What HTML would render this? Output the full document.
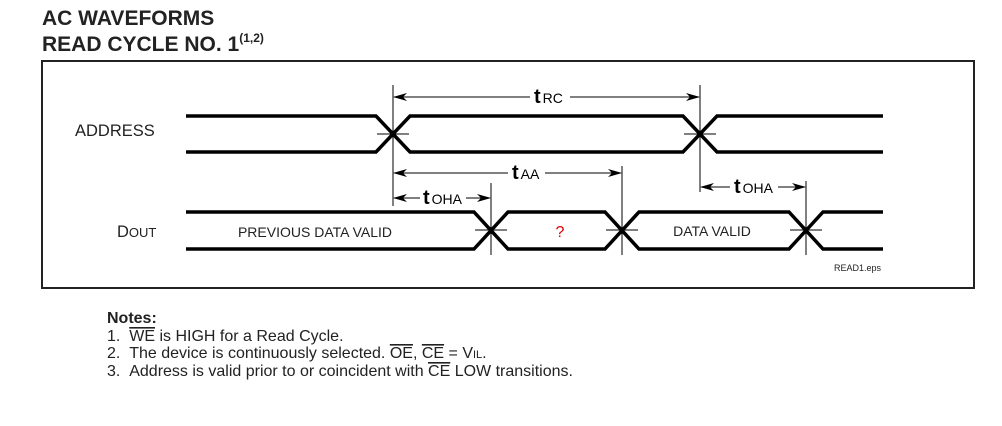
<!DOCTYPE html>
<html><head><meta charset="utf-8"><style>
html,body{margin:0;padding:0;background:#fff;}
body{width:1002px;height:421px;overflow:hidden;}
svg text{font-family:"Liberation Sans",Arial,sans-serif;}
</style></head><body>
<svg width="1002" height="421" viewBox="0 0 1002 421" xmlns="http://www.w3.org/2000/svg">
<defs>
<marker id="a" markerWidth="14" markerHeight="8" refX="13" refY="4" orient="auto" markerUnits="userSpaceOnUse">
<path d="M0,0 L14,4 L0,8 L4,4 Z" fill="#000"/></marker>
<marker id="b" markerWidth="14" markerHeight="8" refX="1" refY="4" orient="auto" markerUnits="userSpaceOnUse">
<path d="M14,0 L0,4 L14,8 L10,4 Z" fill="#000"/></marker>
</defs>
<text x="42" y="25" font-size="21" font-weight="bold" fill="#222">AC WAVEFORMS</text>
<text x="42" y="51" font-size="21" font-weight="bold" fill="#222">READ CYCLE NO. 1<tspan font-size="12" dy="-9">(1,2)</tspan></text>
<rect x="42" y="61" width="932" height="227" fill="none" stroke="#222" stroke-width="2"/>
<text x="75" y="136" font-size="16.5" fill="#222">ADDRESS</text>
<text x="117" y="237" font-size="16.5" fill="#222">D<tspan font-size="13">OUT</tspan></text>
<g fill="none" stroke="#000" stroke-width="3.5">
<polyline points="186,116 376,116 410,152 683,152 717,116 883,116"/>
<polyline points="186,152 376,152 410,116 683,116 717,152 883,152"/>
<polyline points="186,212 474,212 508,249 605,249 639,212 789,212 823,249 883,249"/>
<polyline points="186,249 474,249 508,212 605,212 639,249 789,249 823,212 883,212"/>
</g>
<g stroke="#000" stroke-width="1">
<line x1="393" y1="85" x2="393" y2="206"/>
<line x1="700" y1="85" x2="700" y2="192"/>
<line x1="491" y1="183" x2="491" y2="255"/>
<line x1="622" y1="166" x2="622" y2="255"/>
<line x1="806" y1="181" x2="806" y2="255"/>
<line x1="377" y1="134" x2="409" y2="134"/>
<line x1="684" y1="134" x2="716" y2="134"/>
<line x1="475" y1="230" x2="507" y2="230"/>
<line x1="606" y1="230" x2="638" y2="230"/>
<line x1="790" y1="230" x2="822" y2="230"/>
<line x1="394" y1="97" x2="530" y2="97" marker-start="url(#b)"/>
<line x1="570" y1="97" x2="699" y2="97" marker-end="url(#a)"/>
<line x1="394" y1="173" x2="508" y2="173" marker-start="url(#b)"/>
<line x1="545" y1="173" x2="621" y2="173" marker-end="url(#a)"/>
<line x1="394" y1="198" x2="420" y2="198" marker-start="url(#b)"/>
<line x1="466" y1="198" x2="490" y2="198" marker-end="url(#a)"/>
<line x1="701" y1="187" x2="730" y2="187" marker-start="url(#b)"/>
<line x1="778" y1="187" x2="805" y2="187" marker-end="url(#a)"/>
</g>
<text x="534" y="103" font-size="20" font-weight="bold">t<tspan font-size="14" font-weight="normal" dx="2">RC</tspan></text>
<text x="512" y="179" font-size="20" font-weight="bold">t<tspan font-size="14" font-weight="normal" dx="2">AA</tspan></text>
<text x="423" y="204" font-size="20" font-weight="bold">t<tspan font-size="14" font-weight="normal" dx="2">OHA</tspan></text>
<text x="734" y="193" font-size="20" font-weight="bold">t<tspan font-size="14" font-weight="normal" dx="2">OHA</tspan></text>
<text x="315" y="237" font-size="14" text-anchor="middle" fill="#222">PREVIOUS DATA VALID</text>
<text x="560" y="237" font-size="16" text-anchor="middle" fill="#d00">?</text>
<text x="712" y="236" font-size="14" text-anchor="middle" fill="#222">DATA VALID</text>
<text x="834" y="271" font-size="9" fill="#222">READ1.eps</text>
<g font-size="16" fill="#222">
<text x="107" y="323" font-weight="bold">Notes:</text>
<text x="107" y="341">1.&#160;&#160;<tspan text-decoration="overline">WE</tspan> is HIGH for a Read Cycle.</text>
<text x="107" y="358">2.&#160;&#160;The device is continuously selected. <tspan text-decoration="overline">OE</tspan>, <tspan text-decoration="overline">CE</tspan> = V<tspan font-size="11">IL</tspan>.</text>
<text x="107" y="376">3.&#160;&#160;Address is valid prior to or coincident with <tspan text-decoration="overline">CE</tspan> LOW transitions.</text>
</g>
</svg>
</body></html>
